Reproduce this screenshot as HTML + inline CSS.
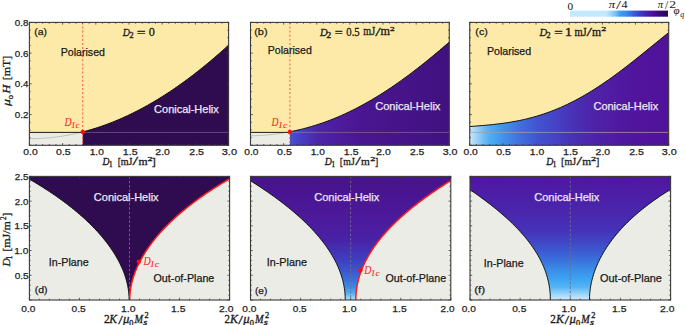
<!DOCTYPE html>
<html><head><meta charset="utf-8"><style>
html,body{margin:0;padding:0;background:#fff;}
body{width:685px;height:325px;overflow:hidden;}
svg{display:block;}
</style></head><body>
<svg xmlns="http://www.w3.org/2000/svg" width="685" height="325" viewBox="0 0 685 325">
<defs>
<clipPath id="ct0"><rect x="29.4" y="22.4" width="199.2" height="122.9"/></clipPath>
<clipPath id="cb0"><rect x="29.4" y="176.4" width="200.2" height="123.6"/></clipPath>
<clipPath id="ct1"><rect x="250.5" y="22.4" width="198.8" height="122.9"/></clipPath>
<clipPath id="cb1"><rect x="250.5" y="176.4" width="200.3" height="123.6"/></clipPath>
<clipPath id="ct2"><rect x="469.7" y="22.4" width="199" height="122.9"/></clipPath>
<clipPath id="cb2"><rect x="470.0" y="176.4" width="200.6" height="123.6"/></clipPath>
<linearGradient id="gb" gradientUnits="userSpaceOnUse" x1="290" y1="0" x2="449.6" y2="0"><stop offset="0.0063" stop-color="#4450d0"/><stop offset="0.0627" stop-color="#4640c4"/><stop offset="0.1253" stop-color="#4a30b4"/><stop offset="0.1880" stop-color="#4c24a8"/><stop offset="0.2820" stop-color="#4e1ca0"/><stop offset="0.3759" stop-color="#4c1898"/><stop offset="0.4261" stop-color="#4a1694"/><stop offset="0.6892" stop-color="#461488"/><stop offset="1.0000" stop-color="#401080"/></linearGradient>
<linearGradient id="gc" gradientUnits="userSpaceOnUse" x1="469.7" y1="0" x2="668.8" y2="0"><stop offset="0.0015" stop-color="#c8e8fc"/><stop offset="0.0266" stop-color="#a8d8f8"/><stop offset="0.0517" stop-color="#88c8f6"/><stop offset="0.0768" stop-color="#68b8f4"/><stop offset="0.1020" stop-color="#50acf2"/><stop offset="0.1271" stop-color="#48a4f0"/><stop offset="0.1522" stop-color="#4498ec"/><stop offset="0.2024" stop-color="#4284e4"/><stop offset="0.2526" stop-color="#4070dc"/><stop offset="0.3029" stop-color="#4060d6"/><stop offset="0.3430" stop-color="#4252d0"/><stop offset="0.4033" stop-color="#4448c8"/><stop offset="0.4787" stop-color="#4838bc"/><stop offset="0.5540" stop-color="#4a2cb0"/><stop offset="0.6293" stop-color="#4e22a8"/><stop offset="0.6796" stop-color="#501ea4"/><stop offset="0.7549" stop-color="#5018a0"/><stop offset="0.8553" stop-color="#52149c"/><stop offset="1.0000" stop-color="#50129a"/></linearGradient>
<linearGradient id="ge" gradientUnits="userSpaceOnUse" x1="0" y1="176.4" x2="0" y2="300"><stop offset="0.0000" stop-color="#46148a"/><stop offset="0.1909" stop-color="#4a1694"/><stop offset="0.3528" stop-color="#4c1a9c"/><stop offset="0.5146" stop-color="#4822a6"/><stop offset="0.5955" stop-color="#4430b4"/><stop offset="0.6764" stop-color="#3e40c0"/><stop offset="0.7573" stop-color="#3c54cc"/><stop offset="0.8382" stop-color="#3a70da"/><stop offset="0.9029" stop-color="#3c90e6"/><stop offset="0.9515" stop-color="#5cb4f2"/><stop offset="0.9838" stop-color="#98d4f8"/><stop offset="1.0000" stop-color="#b0e0fa"/></linearGradient>
<linearGradient id="gf" gradientUnits="userSpaceOnUse" x1="0" y1="176.4" x2="0" y2="300"><stop offset="0.0000" stop-color="#5016a0"/><stop offset="0.1505" stop-color="#4c1ea6"/><stop offset="0.3123" stop-color="#4828ae"/><stop offset="0.4337" stop-color="#4432b8"/><stop offset="0.5146" stop-color="#4242c2"/><stop offset="0.5955" stop-color="#3c58d0"/><stop offset="0.6764" stop-color="#3a70dc"/><stop offset="0.7573" stop-color="#3a8ee8"/><stop offset="0.8382" stop-color="#3ea6f2"/><stop offset="0.8948" stop-color="#56b4f4"/><stop offset="0.9434" stop-color="#90d0f8"/><stop offset="0.9838" stop-color="#c0e4fb"/><stop offset="1.0000" stop-color="#cceafc"/></linearGradient>
<linearGradient id="gcb" gradientUnits="userSpaceOnUse" x1="570" y1="0" x2="668" y2="0"><stop offset="0.0000" stop-color="#c4e8fc"/><stop offset="0.3673" stop-color="#c4e8fc"/><stop offset="0.4082" stop-color="#a8dafa"/><stop offset="0.4592" stop-color="#7cc4f6"/><stop offset="0.5102" stop-color="#3fa0f0"/><stop offset="0.5714" stop-color="#3a8ce8"/><stop offset="0.6224" stop-color="#3a6ee0"/><stop offset="0.6531" stop-color="#3a5ad8"/><stop offset="0.7143" stop-color="#3c3cc8"/><stop offset="0.7653" stop-color="#4428b0"/><stop offset="0.8163" stop-color="#4a18a0"/><stop offset="0.8673" stop-color="#4a0a90"/><stop offset="0.9184" stop-color="#3c0878"/><stop offset="0.9694" stop-color="#2e0860"/><stop offset="1.0000" stop-color="#28064f"/></linearGradient>
</defs>
<rect width="685" height="325" fill="#fff"/>
<g clip-path="url(#ct0)">
<rect x="29.4" y="22.4" width="199.2" height="122.9" fill="#FDEAA8"/>
<rect x="29.4" y="132.4" width="53.3" height="12.9" fill="#ECECE7"/>
<path d="M82.7,131.9 L85.19,131.25 L87.68,130.57 L90.17,129.86 L92.66,129.12 L95.15,128.35 L97.64,127.55 L100.13,126.72 L102.62,125.86 L105.11,124.98 L107.6,124.06 L110.09,123.11 L112.58,122.14 L115.07,121.13 L117.56,120.1 L120.05,119.03 L122.54,117.94 L125.03,116.81 L127.52,115.66 L130.01,114.48 L132.5,113.27 L134.99,112.03 L137.48,110.76 L139.97,109.46 L142.46,108.14 L144.95,106.78 L147.44,105.4 L149.93,103.99 L152.42,102.54 L154.91,101.07 L157.39,99.58 L159.88,98.05 L162.37,96.5 L164.86,94.91 L167.35,93.3 L169.84,91.66 L172.33,89.99 L174.82,88.3 L177.31,86.58 L179.8,84.83 L182.29,83.05 L184.78,81.24 L187.27,79.41 L189.76,77.55 L192.25,75.66 L194.74,73.75 L197.23,71.81 L199.72,69.84 L202.21,67.85 L204.7,65.83 L207.19,63.78 L209.68,61.71 L212.17,59.61 L214.66,57.48 L217.15,55.33 L219.64,53.16 L222.13,50.95 L224.62,48.73 L227.11,46.47 L229.6,44.2 L229.6,146.3 L82.7,146.3 L82.7,132.4 Z" fill="#2F0B50"/>
<path d="M29.4,138.7 L31.24,138.69 L33.08,138.67 L34.91,138.63 L36.75,138.57 L38.59,138.49 L40.43,138.41 L42.27,138.3 L44.1,138.18 L45.94,138.04 L47.78,137.89 L49.62,137.72 L51.46,137.53 L53.29,137.33 L55.13,137.11 L56.97,136.88 L58.81,136.63 L60.64,136.36 L62.48,136.08 L64.32,135.78 L66.16,135.46 L68,135.13 L69.83,134.79 L71.67,134.42 L73.51,134.04 L75.35,133.65 L77.19,133.23 L79.02,132.8 L80.86,132.36 L82.7,131.9" fill="none" stroke="#b4b4ae" stroke-width="0.8"/>
<line x1="29.4" y1="132.4" x2="82.7" y2="132.4" stroke="#1a1a1a" stroke-width="1"/>
<line x1="82.7" y1="132.4" x2="228.6" y2="132.4" stroke="#a0a0a0" stroke-opacity="0.45" stroke-width="1"/>
<path d="M82.7,131.9 L85.19,131.25 L87.68,130.57 L90.17,129.86 L92.66,129.12 L95.15,128.35 L97.64,127.55 L100.13,126.72 L102.62,125.86 L105.11,124.98 L107.6,124.06 L110.09,123.11 L112.58,122.14 L115.07,121.13 L117.56,120.1 L120.05,119.03 L122.54,117.94 L125.03,116.81 L127.52,115.66 L130.01,114.48 L132.5,113.27 L134.99,112.03 L137.48,110.76 L139.97,109.46 L142.46,108.14 L144.95,106.78 L147.44,105.4 L149.93,103.99 L152.42,102.54 L154.91,101.07 L157.39,99.58 L159.88,98.05 L162.37,96.5 L164.86,94.91 L167.35,93.3 L169.84,91.66 L172.33,89.99 L174.82,88.3 L177.31,86.58 L179.8,84.83 L182.29,83.05 L184.78,81.24 L187.27,79.41 L189.76,77.55 L192.25,75.66 L194.74,73.75 L197.23,71.81 L199.72,69.84 L202.21,67.85 L204.7,65.83 L207.19,63.78 L209.68,61.71 L212.17,59.61 L214.66,57.48 L217.15,55.33 L219.64,53.16 L222.13,50.95 L224.62,48.73 L227.11,46.47 L229.6,44.2" fill="none" stroke="#111" stroke-width="1"/>
</g>
<g clip-path="url(#ct1)">
<rect x="250.5" y="22.4" width="198.8" height="122.9" fill="#FDEAA8"/>
<rect x="250.5" y="132.4" width="39.4" height="12.9" fill="#ECECE7"/>
<path d="M289.9,131.9 L292.62,131.21 L295.34,130.63 L298.06,130.02 L300.77,129.38 L303.49,128.7 L306.21,127.98 L308.93,127.23 L311.65,126.44 L314.37,125.62 L317.09,124.76 L319.81,123.86 L322.52,122.93 L325.24,121.96 L327.96,120.96 L330.68,119.91 L333.4,118.84 L336.12,117.72 L338.84,116.57 L341.55,115.38 L344.27,114.16 L346.99,112.9 L349.71,111.6 L352.43,110.27 L355.15,108.9 L357.87,107.49 L360.58,106.06 L363.3,104.58 L366.02,103.07 L368.74,101.53 L371.46,99.95 L374.18,98.34 L376.9,96.69 L379.62,95.01 L382.33,93.3 L385.05,91.55 L387.77,89.77 L390.49,87.96 L393.21,86.12 L395.93,84.25 L398.65,82.35 L401.36,80.41 L404.08,78.45 L406.8,76.46 L409.52,74.44 L412.24,72.39 L414.96,70.31 L417.68,68.21 L420.39,66.08 L423.11,63.93 L425.83,61.75 L428.55,59.55 L431.27,57.32 L433.99,55.07 L436.71,52.8 L439.43,50.51 L442.14,48.2 L444.86,45.87 L447.58,43.52 L450.3,41.15 L450.3,146.3 L289.9,146.3 L289.9,132.4 Z" fill="url(#gb)"/>
<path d="M250.5,135.86 L251.86,135.83 L253.22,135.79 L254.58,135.74 L255.93,135.68 L257.29,135.62 L258.65,135.55 L260.01,135.47 L261.37,135.39 L262.73,135.29 L264.09,135.19 L265.44,135.08 L266.8,134.97 L268.16,134.84 L269.52,134.71 L270.88,134.57 L272.24,134.42 L273.6,134.27 L274.96,134.1 L276.31,133.93 L277.67,133.75 L279.03,133.56 L280.39,133.36 L281.75,133.16 L283.11,132.94 L284.47,132.72 L285.82,132.49 L287.18,132.25 L288.54,132 L289.9,131.75" fill="none" stroke="#b4b4ae" stroke-width="0.8"/>
<line x1="250.5" y1="132.4" x2="289.9" y2="132.4" stroke="#1a1a1a" stroke-width="1"/>
<line x1="289.9" y1="132.4" x2="449.3" y2="132.4" stroke="#a0a0a0" stroke-opacity="0.45" stroke-width="1"/>
<path d="M289.9,131.9 L292.62,131.21 L295.34,130.63 L298.06,130.02 L300.77,129.38 L303.49,128.7 L306.21,127.98 L308.93,127.23 L311.65,126.44 L314.37,125.62 L317.09,124.76 L319.81,123.86 L322.52,122.93 L325.24,121.96 L327.96,120.96 L330.68,119.91 L333.4,118.84 L336.12,117.72 L338.84,116.57 L341.55,115.38 L344.27,114.16 L346.99,112.9 L349.71,111.6 L352.43,110.27 L355.15,108.9 L357.87,107.49 L360.58,106.06 L363.3,104.58 L366.02,103.07 L368.74,101.53 L371.46,99.95 L374.18,98.34 L376.9,96.69 L379.62,95.01 L382.33,93.3 L385.05,91.55 L387.77,89.77 L390.49,87.96 L393.21,86.12 L395.93,84.25 L398.65,82.35 L401.36,80.41 L404.08,78.45 L406.8,76.46 L409.52,74.44 L412.24,72.39 L414.96,70.31 L417.68,68.21 L420.39,66.08 L423.11,63.93 L425.83,61.75 L428.55,59.55 L431.27,57.32 L433.99,55.07 L436.71,52.8 L439.43,50.51 L442.14,48.2 L444.86,45.87 L447.58,43.52 L450.3,41.15" fill="none" stroke="#111" stroke-width="1"/>
</g>
<g clip-path="url(#ct2)">
<rect x="469.7" y="22.4" width="199" height="122.9" fill="#FDEAA8"/>
<path d="M468.7,126.66 L472.11,126.39 L475.51,126.12 L478.92,125.84 L482.33,125.56 L485.73,125.25 L489.14,124.93 L492.55,124.58 L495.95,124.2 L499.36,123.79 L502.77,123.34 L506.17,122.85 L509.58,122.32 L512.99,121.74 L516.39,121.11 L519.8,120.43 L523.21,119.7 L526.62,118.9 L530.02,118.05 L533.43,117.13 L536.84,116.15 L540.24,115.11 L543.65,114 L547.06,112.82 L550.46,111.57 L553.87,110.26 L557.28,108.87 L560.68,107.41 L564.09,105.89 L567.5,104.29 L570.9,102.62 L574.31,100.88 L577.72,99.08 L581.12,97.2 L584.53,95.26 L587.94,93.25 L591.34,91.17 L594.75,89.03 L598.16,86.83 L601.56,84.58 L604.97,82.26 L608.38,79.89 L611.78,77.47 L615.19,74.99 L618.6,72.48 L622.01,69.91 L625.41,67.31 L628.82,64.67 L632.23,62 L635.63,59.3 L639.04,56.58 L642.45,53.84 L645.85,51.08 L649.26,48.31 L652.67,45.54 L656.07,42.77 L659.48,40 L662.89,37.24 L666.29,34.5 L669.7,31.78 L669.7,146.3 L468.7,146.3 Z" fill="url(#gc)"/>
<line x1="469.7" y1="132.4" x2="668.7" y2="132.4" stroke="#a0a0a0" stroke-opacity="0.75" stroke-width="1"/>
<path d="M468.7,126.66 L472.11,126.39 L475.51,126.12 L478.92,125.84 L482.33,125.56 L485.73,125.25 L489.14,124.93 L492.55,124.58 L495.95,124.2 L499.36,123.79 L502.77,123.34 L506.17,122.85 L509.58,122.32 L512.99,121.74 L516.39,121.11 L519.8,120.43 L523.21,119.7 L526.62,118.9 L530.02,118.05 L533.43,117.13 L536.84,116.15 L540.24,115.11 L543.65,114 L547.06,112.82 L550.46,111.57 L553.87,110.26 L557.28,108.87 L560.68,107.41 L564.09,105.89 L567.5,104.29 L570.9,102.62 L574.31,100.88 L577.72,99.08 L581.12,97.2 L584.53,95.26 L587.94,93.25 L591.34,91.17 L594.75,89.03 L598.16,86.83 L601.56,84.58 L604.97,82.26 L608.38,79.89 L611.78,77.47 L615.19,74.99 L618.6,72.48 L622.01,69.91 L625.41,67.31 L628.82,64.67 L632.23,62 L635.63,59.3 L639.04,56.58 L642.45,53.84 L645.85,51.08 L649.26,48.31 L652.67,45.54 L656.07,42.77 L659.48,40 L662.89,37.24 L666.29,34.5 L669.7,31.78" fill="none" stroke="#111" stroke-width="1"/>
</g>
<g clip-path="url(#cb0)">
<rect x="29.4" y="176.4" width="200.2" height="123.6" fill="#ECECE7"/>
<path d="M20.99,174.4 L23.84,175.99 L26.64,177.57 L29.4,179.16 L32.11,180.75 L34.78,182.34 L37.4,183.92 L39.98,185.51 L42.51,187.1 L45,188.69 L47.45,190.27 L49.85,191.86 L52.22,193.45 L54.54,195.04 L56.82,196.62 L59.06,198.21 L61.26,199.8 L63.42,201.38 L65.54,202.97 L67.63,204.56 L69.67,206.15 L71.68,207.73 L73.65,209.32 L75.58,210.91 L77.47,212.5 L79.33,214.08 L81.15,215.67 L82.93,217.26 L84.68,218.85 L86.39,220.43 L88.07,222.02 L89.71,223.61 L91.32,225.19 L92.89,226.78 L94.43,228.37 L95.93,229.96 L97.4,231.54 L98.83,233.13 L100.23,234.72 L101.6,236.31 L102.94,237.89 L104.24,239.48 L105.5,241.07 L106.74,242.66 L107.94,244.24 L109.11,245.83 L110.24,247.42 L111.35,249.01 L112.42,250.59 L113.45,252.18 L114.46,253.77 L115.43,255.35 L116.37,256.94 L117.28,258.53 L118.15,260.12 L118.99,261.7 L119.8,263.29 L120.58,264.88 L121.32,266.47 L122.03,268.05 L122.71,269.64 L123.35,271.23 L123.96,272.82 L124.54,274.4 L125.08,275.99 L125.59,277.58 L126.07,279.16 L126.51,280.75 L126.92,282.34 L127.29,283.93 L127.63,285.51 L127.94,287.1 L128.21,288.69 L128.44,290.28 L128.64,291.86 L128.81,293.45 L128.93,295.04 L129.03,296.63 L129.08,298.21 L129.1,299.8 L129.1,301 L129.7,301 L129.7,299.8 L129.72,298.21 L129.78,296.63 L129.87,295.04 L130,293.45 L130.16,291.86 L130.36,290.28 L130.6,288.69 L130.87,287.1 L131.17,285.51 L131.51,283.93 L131.89,282.34 L132.3,280.75 L132.74,279.16 L133.22,277.58 L133.73,275.99 L134.27,274.4 L134.85,272.82 L135.45,271.23 L136.1,269.64 L136.77,268.05 L137.48,266.47 L138.22,264.88 L138.99,263.29 L139.8,261.7 L140.64,260.12 L141.51,258.53 L142.41,256.94 L143.34,255.35 L144.31,253.77 L145.31,252.18 L146.34,250.59 L147.4,249.01 L148.5,247.42 L149.63,245.83 L150.79,244.24 L151.98,242.66 L153.21,241.07 L154.47,239.48 L155.76,237.89 L157.08,236.31 L158.44,234.72 L159.83,233.13 L161.26,231.54 L162.72,229.96 L164.21,228.37 L165.74,226.78 L167.3,225.19 L168.89,223.61 L170.52,222.02 L172.19,220.43 L173.89,218.85 L175.63,217.26 L177.4,215.67 L179.21,214.08 L181.05,212.5 L182.93,210.91 L184.85,209.32 L186.81,207.73 L188.81,206.15 L190.84,204.56 L192.91,202.97 L195.02,201.38 L197.18,199.8 L199.37,198.21 L201.6,196.62 L203.87,195.04 L206.19,193.45 L208.55,191.86 L210.95,190.27 L213.39,188.69 L215.88,187.1 L218.41,185.51 L220.98,183.92 L223.6,182.34 L226.27,180.75 L228.98,179.16 L231.74,177.57 L234.55,175.99 L237.41,174.4 L231.6,174.4 L27.4,174.4 Z" fill="#2F0B50"/>
<line x1="129.5" y1="176.4" x2="129.5" y2="300.0" stroke="#707084" stroke-width="0.9" stroke-dasharray="2.4,2"/>
<path d="M129.1,301 L129.1,299.8 L129.08,298.21 L129.03,296.63 L128.93,295.04 L128.81,293.45 L128.64,291.86 L128.44,290.28 L128.21,288.69 L127.94,287.1 L127.63,285.51 L127.29,283.93 L126.92,282.34 L126.51,280.75 L126.07,279.16 L125.59,277.58 L125.08,275.99 L124.54,274.4 L123.96,272.82 L123.35,271.23 L122.71,269.64 L122.03,268.05 L121.32,266.47 L120.58,264.88 L119.8,263.29 L118.99,261.7 L118.15,260.12 L117.28,258.53 L116.37,256.94 L115.43,255.35 L114.46,253.77 L113.45,252.18 L112.42,250.59 L111.35,249.01 L110.24,247.42 L109.11,245.83 L107.94,244.24 L106.74,242.66 L105.5,241.07 L104.24,239.48 L102.94,237.89 L101.6,236.31 L100.23,234.72 L98.83,233.13 L97.4,231.54 L95.93,229.96 L94.43,228.37 L92.89,226.78 L91.32,225.19 L89.71,223.61 L88.07,222.02 L86.39,220.43 L84.68,218.85 L82.93,217.26 L81.15,215.67 L79.33,214.08 L77.47,212.5 L75.58,210.91 L73.65,209.32 L71.68,207.73 L69.67,206.15 L67.63,204.56 L65.54,202.97 L63.42,201.38 L61.26,199.8 L59.06,198.21 L56.82,196.62 L54.54,195.04 L52.22,193.45 L49.85,191.86 L47.45,190.27 L45,188.69 L42.51,187.1 L39.98,185.51 L37.4,183.92 L34.78,182.34 L32.11,180.75 L29.4,179.16 L26.64,177.57 L23.84,175.99 L20.99,174.4" fill="none" stroke="#111" stroke-width="1"/>
<path d="M129.7,301 L129.7,299.8 L129.72,298.21 L129.78,296.63 L129.87,295.04 L130,293.45 L130.16,291.86 L130.36,290.28 L130.6,288.69 L130.87,287.1 L131.17,285.51 L131.51,283.93 L131.89,282.34 L132.3,280.75 L132.74,279.16 L133.22,277.58 L133.73,275.99 L134.27,274.4 L134.85,272.82 L135.45,271.23 L136.1,269.64 L136.77,268.05 L137.48,266.47 L138.22,264.88 L138.99,263.29 L139.8,261.7 L140.64,260.12 L141.51,258.53 L142.41,256.94 L143.34,255.35 L144.31,253.77 L145.31,252.18 L146.34,250.59 L147.4,249.01 L148.5,247.42 L149.63,245.83 L150.79,244.24 L151.98,242.66 L153.21,241.07 L154.47,239.48 L155.76,237.89 L157.08,236.31 L158.44,234.72 L159.83,233.13 L161.26,231.54 L162.72,229.96 L164.21,228.37 L165.74,226.78 L167.3,225.19 L168.89,223.61 L170.52,222.02 L172.19,220.43 L173.89,218.85 L175.63,217.26 L177.4,215.67 L179.21,214.08 L181.05,212.5 L182.93,210.91 L184.85,209.32 L186.81,207.73 L188.81,206.15 L190.84,204.56 L192.91,202.97 L195.02,201.38 L197.18,199.8 L199.37,198.21 L201.6,196.62 L203.87,195.04 L206.19,193.45 L208.55,191.86 L210.95,190.27 L213.39,188.69 L215.88,187.1 L218.41,185.51 L220.98,183.92 L223.6,182.34 L226.27,180.75 L228.98,179.16 L231.74,177.57 L234.55,175.99 L237.41,174.4" fill="none" stroke="#ff1a1a" stroke-width="1.5"/>
</g>
<g clip-path="url(#cb1)">
<rect x="250.5" y="176.4" width="200.3" height="123.6" fill="#ECECE7"/>
<path d="M240.01,174.4 L242.67,175.99 L245.29,177.57 L247.88,179.16 L250.44,180.75 L252.96,182.34 L255.45,183.92 L257.9,185.51 L260.32,187.1 L262.7,188.69 L265.05,190.27 L267.37,191.86 L269.65,193.45 L271.9,195.04 L274.11,196.62 L276.29,198.21 L278.44,199.8 L280.55,201.38 L282.63,202.97 L284.67,204.56 L286.68,206.15 L288.65,207.73 L290.6,209.32 L292.5,210.91 L294.38,212.5 L296.21,214.08 L298.02,215.67 L299.79,217.26 L301.53,218.85 L303.23,220.43 L304.9,222.02 L306.53,223.61 L308.13,225.19 L309.7,226.78 L311.23,228.37 L312.73,229.96 L314.2,231.54 L315.63,233.13 L317.03,234.72 L318.39,236.31 L319.72,237.89 L321.01,239.48 L322.27,241.07 L323.5,242.66 L324.7,244.24 L325.86,245.83 L326.98,247.42 L328.07,249.01 L329.13,250.59 L330.16,252.18 L331.15,253.77 L332.11,255.35 L333.03,256.94 L333.92,258.53 L334.77,260.12 L335.6,261.7 L336.38,263.29 L337.14,264.88 L337.86,266.47 L338.55,268.05 L339.2,269.64 L339.82,271.23 L340.41,272.82 L340.96,274.4 L341.48,275.99 L341.96,277.58 L342.42,279.16 L342.83,280.75 L343.22,282.34 L343.57,283.93 L343.89,285.51 L344.17,287.1 L344.42,288.69 L344.64,290.28 L344.82,291.86 L344.97,293.45 L345.09,295.04 L345.17,296.63 L345.22,298.21 L345.24,299.8 L345.24,301 L355.81,301 L355.81,299.8 L355.83,298.21 L355.88,296.63 L355.96,295.04 L356.07,293.45 L356.22,291.86 L356.4,290.28 L356.61,288.69 L356.85,287.1 L357.13,285.51 L357.44,283.93 L357.78,282.34 L358.16,280.75 L358.56,279.16 L359.01,277.58 L359.48,275.99 L359.99,274.4 L360.53,272.82 L361.11,271.23 L361.71,269.64 L362.36,268.05 L363.03,266.47 L363.74,264.88 L364.48,263.29 L365.26,261.7 L366.07,260.12 L366.91,258.53 L367.79,256.94 L368.7,255.35 L369.65,253.77 L370.63,252.18 L371.64,250.59 L372.69,249.01 L373.77,247.42 L374.89,245.83 L376.04,244.24 L377.22,242.66 L378.44,241.07 L379.69,239.48 L380.98,237.89 L382.3,236.31 L383.65,234.72 L385.05,233.13 L386.47,231.54 L387.93,229.96 L389.42,228.37 L390.95,226.78 L392.51,225.19 L394.11,223.61 L395.74,222.02 L397.41,220.43 L399.11,218.85 L400.85,217.26 L402.62,215.67 L404.42,214.08 L406.26,212.5 L408.14,210.91 L410.05,209.32 L412,207.73 L413.98,206.15 L415.99,204.56 L418.04,202.97 L420.12,201.38 L422.24,199.8 L424.4,198.21 L426.59,196.62 L428.81,195.04 L431.07,193.45 L433.37,191.86 L435.7,190.27 L438.06,188.69 L440.46,187.1 L442.89,185.51 L445.36,183.92 L447.87,182.34 L450.41,180.75 L452.98,179.16 L455.59,177.57 L458.24,175.99 L460.92,174.4 L452.8,174.4 L248.5,174.4 Z" fill="url(#ge)"/>
<line x1="350.65" y1="176.4" x2="350.65" y2="300.0" stroke="#707084" stroke-width="0.9" stroke-dasharray="2.4,2"/>
<path d="M345.24,301 L345.24,299.8 L345.22,298.21 L345.17,296.63 L345.09,295.04 L344.97,293.45 L344.82,291.86 L344.64,290.28 L344.42,288.69 L344.17,287.1 L343.89,285.51 L343.57,283.93 L343.22,282.34 L342.83,280.75 L342.42,279.16 L341.96,277.58 L341.48,275.99 L340.96,274.4 L340.41,272.82 L339.82,271.23 L339.2,269.64 L338.55,268.05 L337.86,266.47 L337.14,264.88 L336.38,263.29 L335.6,261.7 L334.77,260.12 L333.92,258.53 L333.03,256.94 L332.11,255.35 L331.15,253.77 L330.16,252.18 L329.13,250.59 L328.07,249.01 L326.98,247.42 L325.86,245.83 L324.7,244.24 L323.5,242.66 L322.27,241.07 L321.01,239.48 L319.72,237.89 L318.39,236.31 L317.03,234.72 L315.63,233.13 L314.2,231.54 L312.73,229.96 L311.23,228.37 L309.7,226.78 L308.13,225.19 L306.53,223.61 L304.9,222.02 L303.23,220.43 L301.53,218.85 L299.79,217.26 L298.02,215.67 L296.21,214.08 L294.38,212.5 L292.5,210.91 L290.6,209.32 L288.65,207.73 L286.68,206.15 L284.67,204.56 L282.63,202.97 L280.55,201.38 L278.44,199.8 L276.29,198.21 L274.11,196.62 L271.9,195.04 L269.65,193.45 L267.37,191.86 L265.05,190.27 L262.7,188.69 L260.32,187.1 L257.9,185.51 L255.45,183.92 L252.96,182.34 L250.44,180.75 L247.88,179.16 L245.29,177.57 L242.67,175.99 L240.01,174.4" fill="none" stroke="#111" stroke-width="1"/>
<path d="M355.81,301 L355.81,299.8 L355.83,298.21 L355.88,296.63 L355.96,295.04 L356.07,293.45 L356.22,291.86 L356.4,290.28 L356.61,288.69 L356.85,287.1 L357.13,285.51 L357.44,283.93 L357.78,282.34 L358.16,280.75 L358.56,279.16 L359.01,277.58 L359.48,275.99 L359.99,274.4 L360.53,272.82 L361.11,271.23 L361.71,269.64 L362.36,268.05 L363.03,266.47 L363.74,264.88 L364.48,263.29 L365.26,261.7 L366.07,260.12 L366.91,258.53 L367.79,256.94 L368.7,255.35 L369.65,253.77 L370.63,252.18 L371.64,250.59 L372.69,249.01 L373.77,247.42 L374.89,245.83 L376.04,244.24 L377.22,242.66 L378.44,241.07 L379.69,239.48 L380.98,237.89 L382.3,236.31 L383.65,234.72 L385.05,233.13 L386.47,231.54 L387.93,229.96 L389.42,228.37 L390.95,226.78 L392.51,225.19 L394.11,223.61 L395.74,222.02 L397.41,220.43 L399.11,218.85 L400.85,217.26 L402.62,215.67 L404.42,214.08 L406.26,212.5 L408.14,210.91 L410.05,209.32 L412,207.73 L413.98,206.15 L415.99,204.56 L418.04,202.97 L420.12,201.38 L422.24,199.8 L424.4,198.21 L426.59,196.62 L428.81,195.04 L431.07,193.45 L433.37,191.86 L435.7,190.27 L438.06,188.69 L440.46,187.1 L442.89,185.51 L445.36,183.92 L447.87,182.34 L450.41,180.75 L452.98,179.16 L455.59,177.57 L458.24,175.99 L460.92,174.4" fill="none" stroke="#ff1a1a" stroke-width="1.5"/>
</g>
<g clip-path="url(#cb2)">
<rect x="470.0" y="176.4" width="200.6" height="123.6" fill="#ECECE7"/>
<path d="M446.02,174.4 L448.62,175.99 L451.2,177.57 L453.75,179.16 L456.27,180.75 L458.76,182.34 L461.23,183.92 L463.66,185.51 L466.07,187.1 L468.44,188.69 L470.79,190.27 L473.1,191.86 L475.38,193.45 L477.63,195.04 L479.85,196.62 L482.04,198.21 L484.19,199.8 L486.31,201.38 L488.4,202.97 L490.46,204.56 L492.48,206.15 L494.47,207.73 L496.43,209.32 L498.35,210.91 L500.24,212.5 L502.09,214.08 L503.91,215.67 L505.7,217.26 L507.45,218.85 L509.17,220.43 L510.85,222.02 L512.49,223.61 L514.1,225.19 L515.68,226.78 L517.22,228.37 L518.72,229.96 L520.19,231.54 L521.63,233.13 L523.02,234.72 L524.39,236.31 L525.71,237.89 L527,239.48 L528.26,241.07 L529.48,242.66 L530.66,244.24 L531.81,245.83 L532.92,247.42 L534,249.01 L535.04,250.59 L536.04,252.18 L537.01,253.77 L537.95,255.35 L538.85,256.94 L539.71,258.53 L540.54,260.12 L541.34,261.7 L542.09,263.29 L542.82,264.88 L543.51,266.47 L544.16,268.05 L544.79,269.64 L545.37,271.23 L545.93,272.82 L546.45,274.4 L546.93,275.99 L547.38,277.58 L547.8,279.16 L548.19,280.75 L548.55,282.34 L548.87,283.93 L549.16,285.51 L549.42,287.1 L549.64,288.69 L549.84,290.28 L550,291.86 L550.14,293.45 L550.24,295.04 L550.31,296.63 L550.36,298.21 L550.37,299.8 L550.37,301 L589.5,301 L589.5,299.8 L589.51,298.21 L589.56,296.63 L589.64,295.04 L589.76,293.45 L589.9,291.86 L590.08,290.28 L590.29,288.69 L590.53,287.1 L590.8,285.51 L591.1,283.93 L591.43,282.34 L591.8,280.75 L592.19,279.16 L592.62,277.58 L593.08,275.99 L593.57,274.4 L594.09,272.82 L594.64,271.23 L595.22,269.64 L595.83,268.05 L596.47,266.47 L597.15,264.88 L597.85,263.29 L598.59,261.7 L599.35,260.12 L600.15,258.53 L600.99,256.94 L601.85,255.35 L602.74,253.77 L603.67,252.18 L604.63,250.59 L605.63,249.01 L606.65,247.42 L607.71,245.83 L608.8,244.24 L609.93,242.66 L611.09,241.07 L612.29,239.48 L613.52,237.89 L614.79,236.31 L616.09,234.72 L617.43,233.13 L618.8,231.54 L620.22,229.96 L621.67,228.37 L623.15,226.78 L624.68,225.19 L626.25,223.61 L627.85,222.02 L629.5,220.43 L631.18,218.85 L632.91,217.26 L634.68,215.67 L636.49,214.08 L638.34,212.5 L640.24,210.91 L642.18,209.32 L644.17,207.73 L646.2,206.15 L648.28,204.56 L650.41,202.97 L652.58,201.38 L654.8,199.8 L657.08,198.21 L659.4,196.62 L661.77,195.04 L664.2,193.45 L666.67,191.86 L669.21,190.27 L671.79,188.69 L674.43,187.1 L677.13,185.51 L679.88,183.92 L682.7,182.34 L685.57,180.75 L688.5,179.16 L691.49,177.57 L694.54,175.99 L697.66,174.4 L672.6,174.4 L468,174.4 Z" fill="url(#gf)"/>
<line x1="570.3" y1="176.4" x2="570.3" y2="300.0" stroke="#707084" stroke-width="0.9" stroke-dasharray="2.4,2"/>
<path d="M550.37,301 L550.37,299.8 L550.36,298.21 L550.31,296.63 L550.24,295.04 L550.14,293.45 L550,291.86 L549.84,290.28 L549.64,288.69 L549.42,287.1 L549.16,285.51 L548.87,283.93 L548.55,282.34 L548.19,280.75 L547.8,279.16 L547.38,277.58 L546.93,275.99 L546.45,274.4 L545.93,272.82 L545.37,271.23 L544.79,269.64 L544.16,268.05 L543.51,266.47 L542.82,264.88 L542.09,263.29 L541.34,261.7 L540.54,260.12 L539.71,258.53 L538.85,256.94 L537.95,255.35 L537.01,253.77 L536.04,252.18 L535.04,250.59 L534,249.01 L532.92,247.42 L531.81,245.83 L530.66,244.24 L529.48,242.66 L528.26,241.07 L527,239.48 L525.71,237.89 L524.39,236.31 L523.02,234.72 L521.63,233.13 L520.19,231.54 L518.72,229.96 L517.22,228.37 L515.68,226.78 L514.1,225.19 L512.49,223.61 L510.85,222.02 L509.17,220.43 L507.45,218.85 L505.7,217.26 L503.91,215.67 L502.09,214.08 L500.24,212.5 L498.35,210.91 L496.43,209.32 L494.47,207.73 L492.48,206.15 L490.46,204.56 L488.4,202.97 L486.31,201.38 L484.19,199.8 L482.04,198.21 L479.85,196.62 L477.63,195.04 L475.38,193.45 L473.1,191.86 L470.79,190.27 L468.44,188.69 L466.07,187.1 L463.66,185.51 L461.23,183.92 L458.76,182.34 L456.27,180.75 L453.75,179.16 L451.2,177.57 L448.62,175.99 L446.02,174.4" fill="none" stroke="#111" stroke-width="1"/>
<path d="M589.5,301 L589.5,299.8 L589.51,298.21 L589.56,296.63 L589.64,295.04 L589.76,293.45 L589.9,291.86 L590.08,290.28 L590.29,288.69 L590.53,287.1 L590.8,285.51 L591.1,283.93 L591.43,282.34 L591.8,280.75 L592.19,279.16 L592.62,277.58 L593.08,275.99 L593.57,274.4 L594.09,272.82 L594.64,271.23 L595.22,269.64 L595.83,268.05 L596.47,266.47 L597.15,264.88 L597.85,263.29 L598.59,261.7 L599.35,260.12 L600.15,258.53 L600.99,256.94 L601.85,255.35 L602.74,253.77 L603.67,252.18 L604.63,250.59 L605.63,249.01 L606.65,247.42 L607.71,245.83 L608.8,244.24 L609.93,242.66 L611.09,241.07 L612.29,239.48 L613.52,237.89 L614.79,236.31 L616.09,234.72 L617.43,233.13 L618.8,231.54 L620.22,229.96 L621.67,228.37 L623.15,226.78 L624.68,225.19 L626.25,223.61 L627.85,222.02 L629.5,220.43 L631.18,218.85 L632.91,217.26 L634.68,215.67 L636.49,214.08 L638.34,212.5 L640.24,210.91 L642.18,209.32 L644.17,207.73 L646.2,206.15 L648.28,204.56 L650.41,202.97 L652.58,201.38 L654.8,199.8 L657.08,198.21 L659.4,196.62 L661.77,195.04 L664.2,193.45 L666.67,191.86 L669.21,190.27 L671.79,188.69 L674.43,187.1 L677.13,185.51 L679.88,183.92 L682.7,182.34 L685.57,180.75 L688.5,179.16 L691.49,177.57 L694.54,175.99 L697.66,174.4" fill="none" stroke="#111" stroke-width="1"/>
</g>
<line x1="82.7" y1="22.4" x2="82.7" y2="145.3" stroke="#f5503c" stroke-opacity="0.85" stroke-width="1.1" stroke-dasharray="2,2.1"/>
<line x1="289.9" y1="22.4" x2="289.9" y2="145.3" stroke="#f5503c" stroke-opacity="0.85" stroke-width="1.1" stroke-dasharray="2,2.1"/>
<rect x="29.4" y="22.4" width="199.2" height="122.9" fill="none" stroke="#3a3a3a" stroke-width="1.1"/>
<path d="M29.4,145.3v-2.2M29.4,22.4v2.2M62.6,145.3v-2.2M62.6,22.4v2.2M95.8,145.3v-2.2M95.8,22.4v2.2M129,145.3v-2.2M129,22.4v2.2M162.2,145.3v-2.2M162.2,22.4v2.2M195.4,145.3v-2.2M195.4,22.4v2.2M228.6,145.3v-2.2M228.6,22.4v2.2M36.04,145.3v-1.3M36.04,22.4v1.3M42.68,145.3v-1.3M42.68,22.4v1.3M49.32,145.3v-1.3M49.32,22.4v1.3M55.96,145.3v-1.3M55.96,22.4v1.3M69.24,145.3v-1.3M69.24,22.4v1.3M75.88,145.3v-1.3M75.88,22.4v1.3M82.52,145.3v-1.3M82.52,22.4v1.3M89.16,145.3v-1.3M89.16,22.4v1.3M102.44,145.3v-1.3M102.44,22.4v1.3M109.08,145.3v-1.3M109.08,22.4v1.3M115.72,145.3v-1.3M115.72,22.4v1.3M122.36,145.3v-1.3M122.36,22.4v1.3M135.64,145.3v-1.3M135.64,22.4v1.3M142.28,145.3v-1.3M142.28,22.4v1.3M148.92,145.3v-1.3M148.92,22.4v1.3M155.56,145.3v-1.3M155.56,22.4v1.3M168.84,145.3v-1.3M168.84,22.4v1.3M175.48,145.3v-1.3M175.48,22.4v1.3M182.12,145.3v-1.3M182.12,22.4v1.3M188.76,145.3v-1.3M188.76,22.4v1.3M202.04,145.3v-1.3M202.04,22.4v1.3M208.68,145.3v-1.3M208.68,22.4v1.3M215.32,145.3v-1.3M215.32,22.4v1.3M221.96,145.3v-1.3M221.96,22.4v1.3M29.4,145.3h2.2M228.6,145.3h-2.2M29.4,114.58h2.2M228.6,114.58h-2.2M29.4,83.85h2.2M228.6,83.85h-2.2M29.4,53.12h2.2M228.6,53.12h-2.2M29.4,22.4h2.2M228.6,22.4h-2.2M29.4,137.62h1.3M228.6,137.62h-1.3M29.4,129.94h1.3M228.6,129.94h-1.3M29.4,122.26h1.3M228.6,122.26h-1.3M29.4,106.89h1.3M228.6,106.89h-1.3M29.4,99.21h1.3M228.6,99.21h-1.3M29.4,91.53h1.3M228.6,91.53h-1.3M29.4,76.17h1.3M228.6,76.17h-1.3M29.4,68.49h1.3M228.6,68.49h-1.3M29.4,60.81h1.3M228.6,60.81h-1.3M29.4,45.44h1.3M228.6,45.44h-1.3M29.4,37.76h1.3M228.6,37.76h-1.3M29.4,30.08h1.3M228.6,30.08h-1.3" stroke="#3a3a3a" stroke-width="0.8" fill="none"/>
<rect x="250.5" y="22.4" width="198.8" height="122.9" fill="none" stroke="#3a3a3a" stroke-width="1.1"/>
<path d="M250.5,145.3v-2.2M250.5,22.4v2.2M283.63,145.3v-2.2M283.63,22.4v2.2M316.77,145.3v-2.2M316.77,22.4v2.2M349.9,145.3v-2.2M349.9,22.4v2.2M383.03,145.3v-2.2M383.03,22.4v2.2M416.17,145.3v-2.2M416.17,22.4v2.2M449.3,145.3v-2.2M449.3,22.4v2.2M257.13,145.3v-1.3M257.13,22.4v1.3M263.75,145.3v-1.3M263.75,22.4v1.3M270.38,145.3v-1.3M270.38,22.4v1.3M277.01,145.3v-1.3M277.01,22.4v1.3M290.26,145.3v-1.3M290.26,22.4v1.3M296.89,145.3v-1.3M296.89,22.4v1.3M303.51,145.3v-1.3M303.51,22.4v1.3M310.14,145.3v-1.3M310.14,22.4v1.3M323.39,145.3v-1.3M323.39,22.4v1.3M330.02,145.3v-1.3M330.02,22.4v1.3M336.65,145.3v-1.3M336.65,22.4v1.3M343.27,145.3v-1.3M343.27,22.4v1.3M356.53,145.3v-1.3M356.53,22.4v1.3M363.15,145.3v-1.3M363.15,22.4v1.3M369.78,145.3v-1.3M369.78,22.4v1.3M376.41,145.3v-1.3M376.41,22.4v1.3M389.66,145.3v-1.3M389.66,22.4v1.3M396.29,145.3v-1.3M396.29,22.4v1.3M402.91,145.3v-1.3M402.91,22.4v1.3M409.54,145.3v-1.3M409.54,22.4v1.3M422.79,145.3v-1.3M422.79,22.4v1.3M429.42,145.3v-1.3M429.42,22.4v1.3M436.05,145.3v-1.3M436.05,22.4v1.3M442.67,145.3v-1.3M442.67,22.4v1.3M250.5,145.3h2.2M449.3,145.3h-2.2M250.5,114.58h2.2M449.3,114.58h-2.2M250.5,83.85h2.2M449.3,83.85h-2.2M250.5,53.12h2.2M449.3,53.12h-2.2M250.5,22.4h2.2M449.3,22.4h-2.2M250.5,137.62h1.3M449.3,137.62h-1.3M250.5,129.94h1.3M449.3,129.94h-1.3M250.5,122.26h1.3M449.3,122.26h-1.3M250.5,106.89h1.3M449.3,106.89h-1.3M250.5,99.21h1.3M449.3,99.21h-1.3M250.5,91.53h1.3M449.3,91.53h-1.3M250.5,76.17h1.3M449.3,76.17h-1.3M250.5,68.49h1.3M449.3,68.49h-1.3M250.5,60.81h1.3M449.3,60.81h-1.3M250.5,45.44h1.3M449.3,45.44h-1.3M250.5,37.76h1.3M449.3,37.76h-1.3M250.5,30.08h1.3M449.3,30.08h-1.3" stroke="#3a3a3a" stroke-width="0.8" fill="none"/>
<rect x="469.7" y="22.4" width="199" height="122.9" fill="none" stroke="#3a3a3a" stroke-width="1.1"/>
<path d="M469.7,145.3v-2.2M469.7,22.4v2.2M502.87,145.3v-2.2M502.87,22.4v2.2M536.03,145.3v-2.2M536.03,22.4v2.2M569.2,145.3v-2.2M569.2,22.4v2.2M602.37,145.3v-2.2M602.37,22.4v2.2M635.53,145.3v-2.2M635.53,22.4v2.2M668.7,145.3v-2.2M668.7,22.4v2.2M476.33,145.3v-1.3M476.33,22.4v1.3M482.97,145.3v-1.3M482.97,22.4v1.3M489.6,145.3v-1.3M489.6,22.4v1.3M496.23,145.3v-1.3M496.23,22.4v1.3M509.5,145.3v-1.3M509.5,22.4v1.3M516.13,145.3v-1.3M516.13,22.4v1.3M522.77,145.3v-1.3M522.77,22.4v1.3M529.4,145.3v-1.3M529.4,22.4v1.3M542.67,145.3v-1.3M542.67,22.4v1.3M549.3,145.3v-1.3M549.3,22.4v1.3M555.93,145.3v-1.3M555.93,22.4v1.3M562.57,145.3v-1.3M562.57,22.4v1.3M575.83,145.3v-1.3M575.83,22.4v1.3M582.47,145.3v-1.3M582.47,22.4v1.3M589.1,145.3v-1.3M589.1,22.4v1.3M595.73,145.3v-1.3M595.73,22.4v1.3M609,145.3v-1.3M609,22.4v1.3M615.63,145.3v-1.3M615.63,22.4v1.3M622.27,145.3v-1.3M622.27,22.4v1.3M628.9,145.3v-1.3M628.9,22.4v1.3M642.17,145.3v-1.3M642.17,22.4v1.3M648.8,145.3v-1.3M648.8,22.4v1.3M655.43,145.3v-1.3M655.43,22.4v1.3M662.07,145.3v-1.3M662.07,22.4v1.3M469.7,145.3h2.2M668.7,145.3h-2.2M469.7,114.58h2.2M668.7,114.58h-2.2M469.7,83.85h2.2M668.7,83.85h-2.2M469.7,53.12h2.2M668.7,53.12h-2.2M469.7,22.4h2.2M668.7,22.4h-2.2M469.7,137.62h1.3M668.7,137.62h-1.3M469.7,129.94h1.3M668.7,129.94h-1.3M469.7,122.26h1.3M668.7,122.26h-1.3M469.7,106.89h1.3M668.7,106.89h-1.3M469.7,99.21h1.3M668.7,99.21h-1.3M469.7,91.53h1.3M668.7,91.53h-1.3M469.7,76.17h1.3M668.7,76.17h-1.3M469.7,68.49h1.3M668.7,68.49h-1.3M469.7,60.81h1.3M668.7,60.81h-1.3M469.7,45.44h1.3M668.7,45.44h-1.3M469.7,37.76h1.3M668.7,37.76h-1.3M469.7,30.08h1.3M668.7,30.08h-1.3" stroke="#3a3a3a" stroke-width="0.8" fill="none"/>
<rect x="29.4" y="176.4" width="200.2" height="123.6" fill="none" stroke="#3a3a3a" stroke-width="1.1"/>
<path d="M29.4,300v-2.2M29.4,176.4v2.2M79.45,300v-2.2M79.45,176.4v2.2M129.5,300v-2.2M129.5,176.4v2.2M179.55,300v-2.2M179.55,176.4v2.2M229.6,300v-2.2M229.6,176.4v2.2M39.41,300v-1.3M39.41,176.4v1.3M49.42,300v-1.3M49.42,176.4v1.3M59.43,300v-1.3M59.43,176.4v1.3M69.44,300v-1.3M69.44,176.4v1.3M89.46,300v-1.3M89.46,176.4v1.3M99.47,300v-1.3M99.47,176.4v1.3M109.48,300v-1.3M109.48,176.4v1.3M119.49,300v-1.3M119.49,176.4v1.3M139.51,300v-1.3M139.51,176.4v1.3M149.52,300v-1.3M149.52,176.4v1.3M159.53,300v-1.3M159.53,176.4v1.3M169.54,300v-1.3M169.54,176.4v1.3M189.56,300v-1.3M189.56,176.4v1.3M199.57,300v-1.3M199.57,176.4v1.3M209.58,300v-1.3M209.58,176.4v1.3M219.59,300v-1.3M219.59,176.4v1.3M29.4,300h2.2M229.6,300h-2.2M29.4,275.28h2.2M229.6,275.28h-2.2M29.4,250.56h2.2M229.6,250.56h-2.2M29.4,225.84h2.2M229.6,225.84h-2.2M29.4,201.12h2.2M229.6,201.12h-2.2M29.4,176.4h2.2M229.6,176.4h-2.2M29.4,295.06h1.3M229.6,295.06h-1.3M29.4,290.11h1.3M229.6,290.11h-1.3M29.4,285.17h1.3M229.6,285.17h-1.3M29.4,280.22h1.3M229.6,280.22h-1.3M29.4,270.34h1.3M229.6,270.34h-1.3M29.4,265.39h1.3M229.6,265.39h-1.3M29.4,260.45h1.3M229.6,260.45h-1.3M29.4,255.5h1.3M229.6,255.5h-1.3M29.4,245.62h1.3M229.6,245.62h-1.3M29.4,240.67h1.3M229.6,240.67h-1.3M29.4,235.73h1.3M229.6,235.73h-1.3M29.4,230.78h1.3M229.6,230.78h-1.3M29.4,220.9h1.3M229.6,220.9h-1.3M29.4,215.95h1.3M229.6,215.95h-1.3M29.4,211.01h1.3M229.6,211.01h-1.3M29.4,206.06h1.3M229.6,206.06h-1.3M29.4,196.18h1.3M229.6,196.18h-1.3M29.4,191.23h1.3M229.6,191.23h-1.3M29.4,186.29h1.3M229.6,186.29h-1.3M29.4,181.34h1.3M229.6,181.34h-1.3" stroke="#3a3a3a" stroke-width="0.8" fill="none"/>
<rect x="250.5" y="176.4" width="200.3" height="123.6" fill="none" stroke="#3a3a3a" stroke-width="1.1"/>
<path d="M250.5,300v-2.2M250.5,176.4v2.2M300.57,300v-2.2M300.57,176.4v2.2M350.65,300v-2.2M350.65,176.4v2.2M400.73,300v-2.2M400.73,176.4v2.2M450.8,300v-2.2M450.8,176.4v2.2M260.51,300v-1.3M260.51,176.4v1.3M270.53,300v-1.3M270.53,176.4v1.3M280.55,300v-1.3M280.55,176.4v1.3M290.56,300v-1.3M290.56,176.4v1.3M310.59,300v-1.3M310.59,176.4v1.3M320.61,300v-1.3M320.61,176.4v1.3M330.62,300v-1.3M330.62,176.4v1.3M340.63,300v-1.3M340.63,176.4v1.3M360.67,300v-1.3M360.67,176.4v1.3M370.68,300v-1.3M370.68,176.4v1.3M380.7,300v-1.3M380.7,176.4v1.3M390.71,300v-1.3M390.71,176.4v1.3M410.74,300v-1.3M410.74,176.4v1.3M420.75,300v-1.3M420.75,176.4v1.3M430.77,300v-1.3M430.77,176.4v1.3M440.79,300v-1.3M440.79,176.4v1.3M250.5,300h2.2M450.8,300h-2.2M250.5,275.28h2.2M450.8,275.28h-2.2M250.5,250.56h2.2M450.8,250.56h-2.2M250.5,225.84h2.2M450.8,225.84h-2.2M250.5,201.12h2.2M450.8,201.12h-2.2M250.5,176.4h2.2M450.8,176.4h-2.2M250.5,295.06h1.3M450.8,295.06h-1.3M250.5,290.11h1.3M450.8,290.11h-1.3M250.5,285.17h1.3M450.8,285.17h-1.3M250.5,280.22h1.3M450.8,280.22h-1.3M250.5,270.34h1.3M450.8,270.34h-1.3M250.5,265.39h1.3M450.8,265.39h-1.3M250.5,260.45h1.3M450.8,260.45h-1.3M250.5,255.5h1.3M450.8,255.5h-1.3M250.5,245.62h1.3M450.8,245.62h-1.3M250.5,240.67h1.3M450.8,240.67h-1.3M250.5,235.73h1.3M450.8,235.73h-1.3M250.5,230.78h1.3M450.8,230.78h-1.3M250.5,220.9h1.3M450.8,220.9h-1.3M250.5,215.95h1.3M450.8,215.95h-1.3M250.5,211.01h1.3M450.8,211.01h-1.3M250.5,206.06h1.3M450.8,206.06h-1.3M250.5,196.18h1.3M450.8,196.18h-1.3M250.5,191.23h1.3M450.8,191.23h-1.3M250.5,186.29h1.3M450.8,186.29h-1.3M250.5,181.34h1.3M450.8,181.34h-1.3" stroke="#3a3a3a" stroke-width="0.8" fill="none"/>
<rect x="470.0" y="176.4" width="200.6" height="123.6" fill="none" stroke="#3a3a3a" stroke-width="1.1"/>
<path d="M470,300v-2.2M470,176.4v2.2M520.15,300v-2.2M520.15,176.4v2.2M570.3,300v-2.2M570.3,176.4v2.2M620.45,300v-2.2M620.45,176.4v2.2M670.6,300v-2.2M670.6,176.4v2.2M480.03,300v-1.3M480.03,176.4v1.3M490.06,300v-1.3M490.06,176.4v1.3M500.09,300v-1.3M500.09,176.4v1.3M510.12,300v-1.3M510.12,176.4v1.3M530.18,300v-1.3M530.18,176.4v1.3M540.21,300v-1.3M540.21,176.4v1.3M550.24,300v-1.3M550.24,176.4v1.3M560.27,300v-1.3M560.27,176.4v1.3M580.33,300v-1.3M580.33,176.4v1.3M590.36,300v-1.3M590.36,176.4v1.3M600.39,300v-1.3M600.39,176.4v1.3M610.42,300v-1.3M610.42,176.4v1.3M630.48,300v-1.3M630.48,176.4v1.3M640.51,300v-1.3M640.51,176.4v1.3M650.54,300v-1.3M650.54,176.4v1.3M660.57,300v-1.3M660.57,176.4v1.3M470,300h2.2M670.6,300h-2.2M470,275.28h2.2M670.6,275.28h-2.2M470,250.56h2.2M670.6,250.56h-2.2M470,225.84h2.2M670.6,225.84h-2.2M470,201.12h2.2M670.6,201.12h-2.2M470,176.4h2.2M670.6,176.4h-2.2M470,295.06h1.3M670.6,295.06h-1.3M470,290.11h1.3M670.6,290.11h-1.3M470,285.17h1.3M670.6,285.17h-1.3M470,280.22h1.3M670.6,280.22h-1.3M470,270.34h1.3M670.6,270.34h-1.3M470,265.39h1.3M670.6,265.39h-1.3M470,260.45h1.3M670.6,260.45h-1.3M470,255.5h1.3M670.6,255.5h-1.3M470,245.62h1.3M670.6,245.62h-1.3M470,240.67h1.3M670.6,240.67h-1.3M470,235.73h1.3M670.6,235.73h-1.3M470,230.78h1.3M670.6,230.78h-1.3M470,220.9h1.3M670.6,220.9h-1.3M470,215.95h1.3M670.6,215.95h-1.3M470,211.01h1.3M670.6,211.01h-1.3M470,206.06h1.3M670.6,206.06h-1.3M470,196.18h1.3M670.6,196.18h-1.3M470,191.23h1.3M670.6,191.23h-1.3M470,186.29h1.3M670.6,186.29h-1.3M470,181.34h1.3M670.6,181.34h-1.3" stroke="#3a3a3a" stroke-width="0.8" fill="none"/>
<circle cx="82.7" cy="131.9" r="2.2" fill="#ff0d0d"/>
<circle cx="289.9" cy="131.9" r="2.2" fill="#ff0d0d"/>
<circle cx="138.8" cy="261.6" r="2.2" fill="#ff0d0d"/>
<circle cx="360.3" cy="270.2" r="2.2" fill="#ff0d0d"/>
<text x="23.28" y="154.90" font-family="Liberation Sans" font-size="9.6" fill="#222222" stroke="#222222" stroke-width="0.25" textLength="14.37" lengthAdjust="spacingAndGlyphs">0.0</text>
<text x="56.12" y="154.90" font-family="Liberation Sans" font-size="9.6" fill="#222222" stroke="#222222" stroke-width="0.25" textLength="14.61" lengthAdjust="spacingAndGlyphs">0.5</text>
<text x="89.68" y="154.90" font-family="Liberation Sans" font-size="9.6" fill="#222222" stroke="#222222" stroke-width="0.25" textLength="14.19" lengthAdjust="spacingAndGlyphs">1.0</text>
<text x="122.88" y="154.90" font-family="Liberation Sans" font-size="9.6" fill="#222222" stroke="#222222" stroke-width="0.25" textLength="14.85" lengthAdjust="spacingAndGlyphs">1.5</text>
<text x="155.37" y="154.90" font-family="Liberation Sans" font-size="9.6" fill="#222222" stroke="#222222" stroke-width="0.25" textLength="14.55" lengthAdjust="spacingAndGlyphs">2.0</text>
<text x="189.32" y="154.90" font-family="Liberation Sans" font-size="9.6" fill="#222222" stroke="#222222" stroke-width="0.25" textLength="14.60" lengthAdjust="spacingAndGlyphs">2.5</text>
<text x="221.72" y="154.90" font-family="Liberation Sans" font-size="9.6" fill="#222222" stroke="#222222" stroke-width="0.25" textLength="15.29" lengthAdjust="spacingAndGlyphs">3.0</text>
<text x="244.34" y="154.90" font-family="Liberation Sans" font-size="9.6" fill="#222222" stroke="#222222" stroke-width="0.25" textLength="14.16" lengthAdjust="spacingAndGlyphs">0.0</text>
<text x="277.13" y="154.90" font-family="Liberation Sans" font-size="9.6" fill="#222222" stroke="#222222" stroke-width="0.25" textLength="14.74" lengthAdjust="spacingAndGlyphs">0.5</text>
<text x="310.71" y="154.90" font-family="Liberation Sans" font-size="9.6" fill="#222222" stroke="#222222" stroke-width="0.25" textLength="14.08" lengthAdjust="spacingAndGlyphs">1.0</text>
<text x="343.89" y="154.90" font-family="Liberation Sans" font-size="9.6" fill="#222222" stroke="#222222" stroke-width="0.25" textLength="14.62" lengthAdjust="spacingAndGlyphs">1.5</text>
<text x="376.38" y="154.90" font-family="Liberation Sans" font-size="9.6" fill="#222222" stroke="#222222" stroke-width="0.25" textLength="14.38" lengthAdjust="spacingAndGlyphs">2.0</text>
<text x="410.04" y="154.90" font-family="Liberation Sans" font-size="9.6" fill="#222222" stroke="#222222" stroke-width="0.25" textLength="14.33" lengthAdjust="spacingAndGlyphs">2.5</text>
<text x="442.66" y="154.90" font-family="Liberation Sans" font-size="9.6" fill="#222222" stroke="#222222" stroke-width="0.25" textLength="14.89" lengthAdjust="spacingAndGlyphs">3.0</text>
<text x="463.43" y="154.90" font-family="Liberation Sans" font-size="9.6" fill="#222222" stroke="#222222" stroke-width="0.25" textLength="14.31" lengthAdjust="spacingAndGlyphs">0.0</text>
<text x="496.20" y="154.90" font-family="Liberation Sans" font-size="9.6" fill="#222222" stroke="#222222" stroke-width="0.25" textLength="14.77" lengthAdjust="spacingAndGlyphs">0.5</text>
<text x="529.87" y="154.90" font-family="Liberation Sans" font-size="9.6" fill="#222222" stroke="#222222" stroke-width="0.25" textLength="14.34" lengthAdjust="spacingAndGlyphs">1.0</text>
<text x="563.09" y="154.90" font-family="Liberation Sans" font-size="9.6" fill="#222222" stroke="#222222" stroke-width="0.25" textLength="14.87" lengthAdjust="spacingAndGlyphs">1.5</text>
<text x="595.62" y="154.90" font-family="Liberation Sans" font-size="9.6" fill="#222222" stroke="#222222" stroke-width="0.25" textLength="14.48" lengthAdjust="spacingAndGlyphs">2.0</text>
<text x="629.29" y="154.90" font-family="Liberation Sans" font-size="9.6" fill="#222222" stroke="#222222" stroke-width="0.25" textLength="14.56" lengthAdjust="spacingAndGlyphs">2.5</text>
<text x="661.85" y="154.90" font-family="Liberation Sans" font-size="9.6" fill="#222222" stroke="#222222" stroke-width="0.25" textLength="15.05" lengthAdjust="spacingAndGlyphs">3.0</text>
<text x="21.36" y="311.80" font-family="Liberation Sans" font-size="9.6" fill="#222222" stroke="#222222" stroke-width="0.25" textLength="14.04" lengthAdjust="spacingAndGlyphs">0.0</text>
<text x="71.53" y="311.80" font-family="Liberation Sans" font-size="9.6" fill="#222222" stroke="#222222" stroke-width="0.25" textLength="14.08" lengthAdjust="spacingAndGlyphs">0.5</text>
<text x="120.94" y="311.80" font-family="Liberation Sans" font-size="9.6" fill="#222222" stroke="#222222" stroke-width="0.25" textLength="14.57" lengthAdjust="spacingAndGlyphs">1.0</text>
<text x="171.05" y="311.80" font-family="Liberation Sans" font-size="9.6" fill="#222222" stroke="#222222" stroke-width="0.25" textLength="14.36" lengthAdjust="spacingAndGlyphs">1.5</text>
<text x="219.12" y="311.80" font-family="Liberation Sans" font-size="9.6" fill="#222222" stroke="#222222" stroke-width="0.25" textLength="14.38" lengthAdjust="spacingAndGlyphs">2.0</text>
<text x="242.37" y="311.80" font-family="Liberation Sans" font-size="9.6" fill="#222222" stroke="#222222" stroke-width="0.25" textLength="14.09" lengthAdjust="spacingAndGlyphs">0.0</text>
<text x="292.69" y="311.80" font-family="Liberation Sans" font-size="9.6" fill="#222222" stroke="#222222" stroke-width="0.25" textLength="13.84" lengthAdjust="spacingAndGlyphs">0.5</text>
<text x="342.07" y="311.80" font-family="Liberation Sans" font-size="9.6" fill="#222222" stroke="#222222" stroke-width="0.25" textLength="14.53" lengthAdjust="spacingAndGlyphs">1.0</text>
<text x="392.39" y="311.80" font-family="Liberation Sans" font-size="9.6" fill="#222222" stroke="#222222" stroke-width="0.25" textLength="14.27" lengthAdjust="spacingAndGlyphs">1.5</text>
<text x="440.62" y="311.80" font-family="Liberation Sans" font-size="9.6" fill="#222222" stroke="#222222" stroke-width="0.25" textLength="13.84" lengthAdjust="spacingAndGlyphs">2.0</text>
<text x="461.72" y="311.80" font-family="Liberation Sans" font-size="9.6" fill="#222222" stroke="#222222" stroke-width="0.25" textLength="14.05" lengthAdjust="spacingAndGlyphs">0.0</text>
<text x="512.22" y="311.80" font-family="Liberation Sans" font-size="9.6" fill="#222222" stroke="#222222" stroke-width="0.25" textLength="14.07" lengthAdjust="spacingAndGlyphs">0.5</text>
<text x="561.57" y="311.80" font-family="Liberation Sans" font-size="9.6" fill="#222222" stroke="#222222" stroke-width="0.25" textLength="14.49" lengthAdjust="spacingAndGlyphs">1.0</text>
<text x="612.04" y="311.80" font-family="Liberation Sans" font-size="9.6" fill="#222222" stroke="#222222" stroke-width="0.25" textLength="14.42" lengthAdjust="spacingAndGlyphs">1.5</text>
<text x="660.12" y="311.80" font-family="Liberation Sans" font-size="9.6" fill="#222222" stroke="#222222" stroke-width="0.25" textLength="14.38" lengthAdjust="spacingAndGlyphs">2.0</text>
<text x="14.73" y="118.13" font-family="Liberation Sans" font-size="9.6" fill="#222222" stroke="#222222" stroke-width="0.25" textLength="13.67" lengthAdjust="spacingAndGlyphs">0.2</text>
<text x="14.77" y="87.40" font-family="Liberation Sans" font-size="9.6" fill="#222222" stroke="#222222" stroke-width="0.25" textLength="13.63" lengthAdjust="spacingAndGlyphs">0.4</text>
<text x="14.89" y="56.68" font-family="Liberation Sans" font-size="9.6" fill="#222222" stroke="#222222" stroke-width="0.25" textLength="13.52" lengthAdjust="spacingAndGlyphs">0.6</text>
<text x="14.84" y="25.95" font-family="Liberation Sans" font-size="9.6" fill="#222222" stroke="#222222" stroke-width="0.25" textLength="13.62" lengthAdjust="spacingAndGlyphs">0.8</text>
<text x="14.76" y="278.83" font-family="Liberation Sans" font-size="9.6" fill="#222222" stroke="#222222" stroke-width="0.25" textLength="13.96" lengthAdjust="spacingAndGlyphs">0.5</text>
<text x="14.20" y="254.11" font-family="Liberation Sans" font-size="9.6" fill="#222222" stroke="#222222" stroke-width="0.25" textLength="14.14" lengthAdjust="spacingAndGlyphs">1.0</text>
<text x="14.22" y="229.39" font-family="Liberation Sans" font-size="9.6" fill="#222222" stroke="#222222" stroke-width="0.25" textLength="14.49" lengthAdjust="spacingAndGlyphs">1.5</text>
<text x="14.85" y="204.67" font-family="Liberation Sans" font-size="9.6" fill="#222222" stroke="#222222" stroke-width="0.25" textLength="13.48" lengthAdjust="spacingAndGlyphs">2.0</text>
<text x="14.81" y="179.95" font-family="Liberation Sans" font-size="9.6" fill="#222222" stroke="#222222" stroke-width="0.25" textLength="13.62" lengthAdjust="spacingAndGlyphs">2.5</text>
<text x="34.25" y="34.95" font-family="Liberation Sans" font-size="9.8" fill="#1a1a1a" stroke="#1a1a1a" stroke-width="0.25" textLength="12.80" lengthAdjust="spacingAndGlyphs">(a)</text>
<text x="254.19" y="35.35" font-family="Liberation Sans" font-size="9.8" fill="#1a1a1a" stroke="#1a1a1a" stroke-width="0.25" textLength="13.34" lengthAdjust="spacingAndGlyphs">(b)</text>
<text x="475.37" y="35.45" font-family="Liberation Sans" font-size="9.8" fill="#1a1a1a" stroke="#1a1a1a" stroke-width="0.25" textLength="12.50" lengthAdjust="spacingAndGlyphs">(c)</text>
<text x="34.77" y="293.35" font-family="Liberation Sans" font-size="9.8" fill="#1a1a1a" stroke="#1a1a1a" stroke-width="0.25" textLength="12.86" lengthAdjust="spacingAndGlyphs">(d)</text>
<text x="254.98" y="293.55" font-family="Liberation Sans" font-size="9.8" fill="#1a1a1a" stroke="#1a1a1a" stroke-width="0.25" textLength="12.31" lengthAdjust="spacingAndGlyphs">(e)</text>
<text x="474.15" y="293.35" font-family="Liberation Sans" font-size="9.8" fill="#1a1a1a" stroke="#1a1a1a" stroke-width="0.25" textLength="11.00" lengthAdjust="spacingAndGlyphs">(f)</text>
<text x="60.82" y="55.80" font-family="Liberation Sans" font-size="10.4" fill="#1a1a1a" stroke="#1a1a1a" stroke-width="0.25" textLength="44.09" lengthAdjust="spacingAndGlyphs">Polarised</text>
<text x="267.82" y="53.80" font-family="Liberation Sans" font-size="10.4" fill="#1a1a1a" stroke="#1a1a1a" stroke-width="0.25" textLength="43.97" lengthAdjust="spacingAndGlyphs">Polarised</text>
<text x="486.92" y="55.30" font-family="Liberation Sans" font-size="10.4" fill="#1a1a1a" stroke="#1a1a1a" stroke-width="0.25" textLength="44.27" lengthAdjust="spacingAndGlyphs">Polarised</text>
<text x="154.14" y="112.50" font-family="Liberation Sans" font-size="10.4" fill="#ede6f5" stroke="#ede6f5" stroke-width="0.25" textLength="64.65" lengthAdjust="spacingAndGlyphs">Conical-Helix</text>
<text x="375.15" y="109.90" font-family="Liberation Sans" font-size="10.4" fill="#ede6f5" stroke="#ede6f5" stroke-width="0.25" textLength="65.28" lengthAdjust="spacingAndGlyphs">Conical-Helix</text>
<text x="593.46" y="110.30" font-family="Liberation Sans" font-size="10.4" fill="#ede6f5" stroke="#ede6f5" stroke-width="0.25" textLength="64.69" lengthAdjust="spacingAndGlyphs">Conical-Helix</text>
<text x="93.85" y="200.90" font-family="Liberation Sans" font-size="10.4" fill="#ede6f5" stroke="#ede6f5" stroke-width="0.25" textLength="64.76" lengthAdjust="spacingAndGlyphs">Conical-Helix</text>
<text x="314.18" y="201.40" font-family="Liberation Sans" font-size="10.4" fill="#ede6f5" stroke="#ede6f5" stroke-width="0.25" textLength="65.06" lengthAdjust="spacingAndGlyphs">Conical-Helix</text>
<text x="534.18" y="201.40" font-family="Liberation Sans" font-size="10.4" fill="#ede6f5" stroke="#ede6f5" stroke-width="0.25" textLength="65.06" lengthAdjust="spacingAndGlyphs">Conical-Helix</text>
<text x="48.79" y="266.40" font-family="Liberation Sans" font-size="10.4" fill="#1a1a1a" stroke="#1a1a1a" stroke-width="0.25" textLength="39.97" lengthAdjust="spacingAndGlyphs">In-Plane</text>
<text x="266.79" y="266.30" font-family="Liberation Sans" font-size="10.4" fill="#1a1a1a" stroke="#1a1a1a" stroke-width="0.25" textLength="40.15" lengthAdjust="spacingAndGlyphs">In-Plane</text>
<text x="483.88" y="266.50" font-family="Liberation Sans" font-size="10.4" fill="#1a1a1a" stroke="#1a1a1a" stroke-width="0.25" textLength="39.81" lengthAdjust="spacingAndGlyphs">In-Plane</text>
<text x="153.52" y="281.90" font-family="Liberation Sans" font-size="10.4" fill="#1a1a1a" stroke="#1a1a1a" stroke-width="0.25" textLength="60.83" lengthAdjust="spacingAndGlyphs">Out-of-Plane</text>
<text x="385.52" y="281.70" font-family="Liberation Sans" font-size="10.4" fill="#1a1a1a" stroke="#1a1a1a" stroke-width="0.25" textLength="60.70" lengthAdjust="spacingAndGlyphs">Out-of-Plane</text>
<text x="600.08" y="281.70" font-family="Liberation Sans" font-size="10.4" fill="#1a1a1a" stroke="#1a1a1a" stroke-width="0.25" textLength="61.82" lengthAdjust="spacingAndGlyphs">Out-of-Plane</text>
<text x="122.67" y="35.80" font-family="Liberation Serif" font-size="11.4" fill="#1a1a1a" stroke="#1a1a1a" stroke-width="0.3" font-style="italic" textLength="7.18" lengthAdjust="spacingAndGlyphs">D</text>
<text x="129.41" y="37.70" font-family="Liberation Serif" font-size="7.2" fill="#1a1a1a" stroke="#1a1a1a" stroke-width="0.3" textLength="4.11" lengthAdjust="spacingAndGlyphs">2</text>
<text x="136.79" y="37.00" font-family="Liberation Serif" font-size="11.8" fill="#1a1a1a" stroke="#1a1a1a" stroke-width="0.3" textLength="8.88" lengthAdjust="spacingAndGlyphs">=</text>
<text x="148.87" y="35.90" font-family="Liberation Serif" font-size="12.2" fill="#1a1a1a" stroke="#1a1a1a" stroke-width="0.3" textLength="6.07" lengthAdjust="spacingAndGlyphs">0</text>
<text x="319.96" y="35.60" font-family="Liberation Serif" font-size="11.4" fill="#1a1a1a" stroke="#1a1a1a" stroke-width="0.3" font-style="italic" textLength="7.59" lengthAdjust="spacingAndGlyphs">D</text>
<text x="326.62" y="37.70" font-family="Liberation Serif" font-size="7.2" fill="#1a1a1a" stroke="#1a1a1a" stroke-width="0.3" textLength="4.71" lengthAdjust="spacingAndGlyphs">2</text>
<text x="334.85" y="36.80" font-family="Liberation Serif" font-size="11.8" fill="#1a1a1a" stroke="#1a1a1a" stroke-width="0.3" textLength="8.06" lengthAdjust="spacingAndGlyphs">=</text>
<text x="346.29" y="35.50" font-family="Liberation Serif" font-size="12.2" fill="#1a1a1a" stroke="#1a1a1a" stroke-width="0.3" textLength="13.43" lengthAdjust="spacingAndGlyphs">0.5</text>
<text x="363.30" y="35.20" font-family="Liberation Serif" font-size="11.8" fill="#1a1a1a" stroke="#1a1a1a" stroke-width="0.3" textLength="11.86" lengthAdjust="spacingAndGlyphs">mJ</text>
<text x="375.25" y="35.80" font-family="Liberation Serif" font-size="13.4" fill="#1a1a1a" stroke="#1a1a1a" stroke-width="0.3" textLength="5.50" lengthAdjust="spacingAndGlyphs">/</text>
<text x="380.57" y="35.20" font-family="Liberation Serif" font-size="11.8" fill="#1a1a1a" stroke="#1a1a1a" stroke-width="0.3" textLength="9.48" lengthAdjust="spacingAndGlyphs">m</text>
<text x="390.09" y="30.90" font-family="Liberation Serif" font-size="6.8" fill="#1a1a1a" stroke="#1a1a1a" stroke-width="0.3" textLength="4.71" lengthAdjust="spacingAndGlyphs">2</text>
<text x="539.46" y="35.80" font-family="Liberation Serif" font-size="11.4" fill="#1a1a1a" stroke="#1a1a1a" stroke-width="0.3" font-style="italic" textLength="7.64" lengthAdjust="spacingAndGlyphs">D</text>
<text x="546.41" y="37.70" font-family="Liberation Serif" font-size="7.2" fill="#1a1a1a" stroke="#1a1a1a" stroke-width="0.3" textLength="4.11" lengthAdjust="spacingAndGlyphs">2</text>
<text x="554.35" y="37.00" font-family="Liberation Serif" font-size="11.8" fill="#1a1a1a" stroke="#1a1a1a" stroke-width="0.3" textLength="8.51" lengthAdjust="spacingAndGlyphs">=</text>
<text x="564.80" y="35.90" font-family="Liberation Serif" font-size="12.2" fill="#1a1a1a" stroke="#1a1a1a" stroke-width="0.3" textLength="7.34" lengthAdjust="spacingAndGlyphs">1</text>
<text x="574.42" y="35.60" font-family="Liberation Serif" font-size="11.8" fill="#1a1a1a" stroke="#1a1a1a" stroke-width="0.3" textLength="12.22" lengthAdjust="spacingAndGlyphs">mJ</text>
<text x="586.53" y="36.20" font-family="Liberation Serif" font-size="13.4" fill="#1a1a1a" stroke="#1a1a1a" stroke-width="0.3" textLength="5.42" lengthAdjust="spacingAndGlyphs">/</text>
<text x="592.08" y="35.60" font-family="Liberation Serif" font-size="11.8" fill="#1a1a1a" stroke="#1a1a1a" stroke-width="0.3" textLength="9.07" lengthAdjust="spacingAndGlyphs">m</text>
<text x="601.17" y="31.40" font-family="Liberation Serif" font-size="6.8" fill="#1a1a1a" stroke="#1a1a1a" stroke-width="0.3" textLength="5.01" lengthAdjust="spacingAndGlyphs">2</text>
<text x="102.45" y="164.60" font-family="Liberation Serif" font-size="11.0" fill="#1a1a1a" stroke="#1a1a1a" stroke-width="0.3" font-style="italic" textLength="6.97" lengthAdjust="spacingAndGlyphs">D</text>
<text x="109.08" y="167.10" font-family="Liberation Serif" font-size="7.2" fill="#1a1a1a" stroke="#1a1a1a" stroke-width="0.3">1</text>
<text x="117.70" y="164.80" font-family="Liberation Serif" font-size="11.0" fill="#1a1a1a" stroke="#1a1a1a" stroke-width="0.3" textLength="3.10" lengthAdjust="spacingAndGlyphs">[</text>
<text x="120.81" y="164.60" font-family="Liberation Serif" font-size="11.0" fill="#1a1a1a" stroke="#1a1a1a" stroke-width="0.3" textLength="11.66" lengthAdjust="spacingAndGlyphs">mJ</text>
<text x="132.46" y="165.20" font-family="Liberation Serif" font-size="13.2" fill="#1a1a1a" stroke="#1a1a1a" stroke-width="0.3" textLength="5.70" lengthAdjust="spacingAndGlyphs">/</text>
<text x="138.45" y="164.60" font-family="Liberation Serif" font-size="11.0" fill="#1a1a1a" stroke="#1a1a1a" stroke-width="0.3" textLength="9.10" lengthAdjust="spacingAndGlyphs">m</text>
<text x="147.64" y="160.50" font-family="Liberation Serif" font-size="6.6" fill="#1a1a1a" stroke="#1a1a1a" stroke-width="0.3" textLength="5.02" lengthAdjust="spacingAndGlyphs">2</text>
<text x="151.80" y="164.80" font-family="Liberation Serif" font-size="11.0" fill="#1a1a1a" stroke="#1a1a1a" stroke-width="0.3" textLength="4.08" lengthAdjust="spacingAndGlyphs">]</text>
<text x="324.84" y="164.60" font-family="Liberation Serif" font-size="11.0" fill="#1a1a1a" stroke="#1a1a1a" stroke-width="0.3" font-style="italic" textLength="7.06" lengthAdjust="spacingAndGlyphs">D</text>
<text x="331.62" y="167.10" font-family="Liberation Serif" font-size="7.2" fill="#1a1a1a" stroke="#1a1a1a" stroke-width="0.3">1</text>
<text x="339.81" y="164.80" font-family="Liberation Serif" font-size="11.0" fill="#1a1a1a" stroke="#1a1a1a" stroke-width="0.3" textLength="3.28" lengthAdjust="spacingAndGlyphs">[</text>
<text x="343.37" y="164.60" font-family="Liberation Serif" font-size="11.0" fill="#1a1a1a" stroke="#1a1a1a" stroke-width="0.3" textLength="11.40" lengthAdjust="spacingAndGlyphs">mJ</text>
<text x="355.24" y="165.20" font-family="Liberation Serif" font-size="13.2" fill="#1a1a1a" stroke="#1a1a1a" stroke-width="0.3" textLength="5.67" lengthAdjust="spacingAndGlyphs">/</text>
<text x="361.14" y="164.60" font-family="Liberation Serif" font-size="11.0" fill="#1a1a1a" stroke="#1a1a1a" stroke-width="0.3" textLength="8.83" lengthAdjust="spacingAndGlyphs">m</text>
<text x="370.19" y="160.50" font-family="Liberation Serif" font-size="6.6" fill="#1a1a1a" stroke="#1a1a1a" stroke-width="0.3" textLength="5.05" lengthAdjust="spacingAndGlyphs">2</text>
<text x="374.89" y="164.80" font-family="Liberation Serif" font-size="11.0" fill="#1a1a1a" stroke="#1a1a1a" stroke-width="0.3" textLength="3.30" lengthAdjust="spacingAndGlyphs">]</text>
<text x="546.16" y="164.60" font-family="Liberation Serif" font-size="11.0" fill="#1a1a1a" stroke="#1a1a1a" stroke-width="0.3" font-style="italic" textLength="7.01" lengthAdjust="spacingAndGlyphs">D</text>
<text x="552.69" y="167.10" font-family="Liberation Serif" font-size="7.2" fill="#1a1a1a" stroke="#1a1a1a" stroke-width="0.3">1</text>
<text x="560.99" y="164.80" font-family="Liberation Serif" font-size="11.0" fill="#1a1a1a" stroke="#1a1a1a" stroke-width="0.3" textLength="3.51" lengthAdjust="spacingAndGlyphs">[</text>
<text x="564.52" y="164.60" font-family="Liberation Serif" font-size="11.0" fill="#1a1a1a" stroke="#1a1a1a" stroke-width="0.3" textLength="11.55" lengthAdjust="spacingAndGlyphs">mJ</text>
<text x="576.41" y="165.20" font-family="Liberation Serif" font-size="13.2" fill="#1a1a1a" stroke="#1a1a1a" stroke-width="0.3" textLength="5.66" lengthAdjust="spacingAndGlyphs">/</text>
<text x="582.29" y="164.60" font-family="Liberation Serif" font-size="11.0" fill="#1a1a1a" stroke="#1a1a1a" stroke-width="0.3" textLength="8.91" lengthAdjust="spacingAndGlyphs">m</text>
<text x="591.12" y="160.50" font-family="Liberation Serif" font-size="6.6" fill="#1a1a1a" stroke="#1a1a1a" stroke-width="0.3" textLength="5.15" lengthAdjust="spacingAndGlyphs">2</text>
<text x="596.08" y="164.80" font-family="Liberation Serif" font-size="11.0" fill="#1a1a1a" stroke="#1a1a1a" stroke-width="0.3" textLength="3.28" lengthAdjust="spacingAndGlyphs">]</text>
<text x="103.93" y="322.60" font-family="Liberation Serif" font-size="11.6" fill="#1a1a1a" stroke="#1a1a1a" stroke-width="0.3" textLength="5.70" lengthAdjust="spacingAndGlyphs">2</text>
<text x="109.37" y="322.60" font-family="Liberation Serif" font-size="11.6" fill="#1a1a1a" stroke="#1a1a1a" stroke-width="0.3" font-style="italic" textLength="7.73" lengthAdjust="spacingAndGlyphs">K</text>
<text x="118.16" y="324.10" font-family="Liberation Serif" font-size="13.0" fill="#1a1a1a" stroke="#1a1a1a" stroke-width="0.3" textLength="4.58" lengthAdjust="spacingAndGlyphs">/</text>
<text x="123.13" y="322.60" font-family="Liberation Serif" font-size="11.6" fill="#1a1a1a" stroke="#1a1a1a" stroke-width="0.3" font-style="italic" textLength="6.39" lengthAdjust="spacingAndGlyphs">μ</text>
<text x="129.32" y="325.60" font-family="Liberation Serif" font-size="7.6" fill="#1a1a1a" stroke="#1a1a1a" stroke-width="0.3" textLength="4.19" lengthAdjust="spacingAndGlyphs">0</text>
<text x="134.62" y="322.60" font-family="Liberation Serif" font-size="11.6" fill="#1a1a1a" stroke="#1a1a1a" stroke-width="0.3" font-style="italic" textLength="8.55" lengthAdjust="spacingAndGlyphs">M</text>
<text x="143.39" y="325.20" font-family="Liberation Serif" font-size="8.2" fill="#1a1a1a" stroke="#1a1a1a" stroke-width="0.3" font-style="italic" textLength="4.01" lengthAdjust="spacingAndGlyphs">s</text>
<text x="144.53" y="318.30" font-family="Liberation Serif" font-size="7.6" fill="#1a1a1a" stroke="#1a1a1a" stroke-width="0.3" textLength="4.16" lengthAdjust="spacingAndGlyphs">2</text>
<text x="224.46" y="322.60" font-family="Liberation Serif" font-size="11.6" fill="#1a1a1a" stroke="#1a1a1a" stroke-width="0.3" textLength="5.45" lengthAdjust="spacingAndGlyphs">2</text>
<text x="229.94" y="322.60" font-family="Liberation Serif" font-size="11.6" fill="#1a1a1a" stroke="#1a1a1a" stroke-width="0.3" font-style="italic" textLength="7.93" lengthAdjust="spacingAndGlyphs">K</text>
<text x="238.30" y="324.10" font-family="Liberation Serif" font-size="13.0" fill="#1a1a1a" stroke="#1a1a1a" stroke-width="0.3" textLength="4.66" lengthAdjust="spacingAndGlyphs">/</text>
<text x="243.34" y="322.60" font-family="Liberation Serif" font-size="11.6" fill="#1a1a1a" stroke="#1a1a1a" stroke-width="0.3" font-style="italic" textLength="6.38" lengthAdjust="spacingAndGlyphs">μ</text>
<text x="249.88" y="325.60" font-family="Liberation Serif" font-size="7.6" fill="#1a1a1a" stroke="#1a1a1a" stroke-width="0.3" textLength="4.16" lengthAdjust="spacingAndGlyphs">0</text>
<text x="255.07" y="322.60" font-family="Liberation Serif" font-size="11.6" fill="#1a1a1a" stroke="#1a1a1a" stroke-width="0.3" font-style="italic" textLength="8.57" lengthAdjust="spacingAndGlyphs">M</text>
<text x="263.84" y="325.20" font-family="Liberation Serif" font-size="8.2" fill="#1a1a1a" stroke="#1a1a1a" stroke-width="0.3" font-style="italic" textLength="4.03" lengthAdjust="spacingAndGlyphs">s</text>
<text x="265.05" y="318.30" font-family="Liberation Serif" font-size="7.6" fill="#1a1a1a" stroke="#1a1a1a" stroke-width="0.3" textLength="4.25" lengthAdjust="spacingAndGlyphs">2</text>
<text x="550.36" y="322.60" font-family="Liberation Serif" font-size="11.6" fill="#1a1a1a" stroke="#1a1a1a" stroke-width="0.3" textLength="5.58" lengthAdjust="spacingAndGlyphs">2</text>
<text x="556.00" y="322.60" font-family="Liberation Serif" font-size="11.6" fill="#1a1a1a" stroke="#1a1a1a" stroke-width="0.3" font-style="italic" textLength="7.96" lengthAdjust="spacingAndGlyphs">K</text>
<text x="564.47" y="324.10" font-family="Liberation Serif" font-size="13.0" fill="#1a1a1a" stroke="#1a1a1a" stroke-width="0.3" textLength="4.65" lengthAdjust="spacingAndGlyphs">/</text>
<text x="569.53" y="322.60" font-family="Liberation Serif" font-size="11.6" fill="#1a1a1a" stroke="#1a1a1a" stroke-width="0.3" font-style="italic" textLength="6.42" lengthAdjust="spacingAndGlyphs">μ</text>
<text x="575.97" y="325.60" font-family="Liberation Serif" font-size="7.6" fill="#1a1a1a" stroke="#1a1a1a" stroke-width="0.3" textLength="4.18" lengthAdjust="spacingAndGlyphs">0</text>
<text x="581.16" y="322.60" font-family="Liberation Serif" font-size="11.6" fill="#1a1a1a" stroke="#1a1a1a" stroke-width="0.3" font-style="italic" textLength="8.47" lengthAdjust="spacingAndGlyphs">M</text>
<text x="590.14" y="325.20" font-family="Liberation Serif" font-size="8.2" fill="#1a1a1a" stroke="#1a1a1a" stroke-width="0.3" font-style="italic" textLength="3.98" lengthAdjust="spacingAndGlyphs">s</text>
<text x="591.17" y="318.30" font-family="Liberation Serif" font-size="7.6" fill="#1a1a1a" stroke="#1a1a1a" stroke-width="0.3" textLength="4.23" lengthAdjust="spacingAndGlyphs">2</text>
<text x="64.50" y="125.60" font-family="Liberation Serif" font-size="11.8" fill="#ff1f1f" stroke="#ff1f1f" stroke-width="0.1" font-style="italic" textLength="7.06" lengthAdjust="spacingAndGlyphs">D</text>
<text x="70.96" y="127.50" font-family="Liberation Serif" font-size="7.6" fill="#ff1f1f" stroke="#ff1f1f" stroke-width="0.1" font-style="italic" textLength="8.53" lengthAdjust="spacingAndGlyphs">1c</text>
<text x="271.52" y="125.80" font-family="Liberation Serif" font-size="11.8" fill="#ff1f1f" stroke="#ff1f1f" stroke-width="0.1" font-style="italic" textLength="6.96" lengthAdjust="spacingAndGlyphs">D</text>
<text x="278.02" y="128.30" font-family="Liberation Serif" font-size="7.6" fill="#ff1f1f" stroke="#ff1f1f" stroke-width="0.1" font-style="italic" textLength="9.26" lengthAdjust="spacingAndGlyphs">1c</text>
<text x="143.49" y="264.80" font-family="Liberation Serif" font-size="11.8" fill="#ff1f1f" stroke="#ff1f1f" stroke-width="0.1" font-style="italic" textLength="7.18" lengthAdjust="spacingAndGlyphs">D</text>
<text x="149.74" y="267.30" font-family="Liberation Serif" font-size="7.6" fill="#ff1f1f" stroke="#ff1f1f" stroke-width="0.1" font-style="italic" textLength="9.34" lengthAdjust="spacingAndGlyphs">1c</text>
<text x="364.32" y="273.60" font-family="Liberation Serif" font-size="11.8" fill="#ff1f1f" stroke="#ff1f1f" stroke-width="0.1" font-style="italic" textLength="7.11" lengthAdjust="spacingAndGlyphs">D</text>
<text x="370.87" y="275.80" font-family="Liberation Serif" font-size="7.6" fill="#ff1f1f" stroke="#ff1f1f" stroke-width="0.1" font-style="italic" textLength="8.87" lengthAdjust="spacingAndGlyphs">1c</text>
<text x="567.51" y="9.70" font-family="Liberation Serif" font-size="11.2" fill="#1a1a1a" stroke="#1a1a1a" stroke-width="0.05">0</text>
<text x="608.87" y="7.90" font-family="Liberation Serif" font-size="10.6" fill="#1a1a1a" stroke="#1a1a1a" stroke-width="0.05" font-style="italic" textLength="6.42" lengthAdjust="spacingAndGlyphs">π</text>
<text x="616.02" y="8.60" font-family="Liberation Serif" font-size="12.4" fill="#1a1a1a" stroke="#1a1a1a" stroke-width="0.05" textLength="5.05" lengthAdjust="spacingAndGlyphs">/</text>
<text x="621.44" y="7.80" font-family="Liberation Serif" font-size="10.6" fill="#1a1a1a" stroke="#1a1a1a" stroke-width="0.05" textLength="6.05" lengthAdjust="spacingAndGlyphs">4</text>
<text x="657.77" y="7.90" font-family="Liberation Serif" font-size="10.6" fill="#1a1a1a" stroke="#1a1a1a" stroke-width="0.05" font-style="italic">π</text>
<text x="664.90" y="8.60" font-family="Liberation Serif" font-size="12.4" fill="#1a1a1a" stroke="#1a1a1a" stroke-width="0.05" textLength="3.22" lengthAdjust="spacingAndGlyphs">/</text>
<text x="669.17" y="7.90" font-family="Liberation Serif" font-size="10.6" fill="#1a1a1a" stroke="#1a1a1a" stroke-width="0.05" textLength="6.82" lengthAdjust="spacingAndGlyphs">2</text>
<text x="673.38" y="14.20" font-family="Liberation Serif" font-size="11" fill="#1a1a1a" stroke="#1a1a1a" stroke-width="0.05" font-style="italic">φ</text>
<text x="680.14" y="16.50" font-family="Liberation Serif" font-size="7.8" fill="#1a1a1a" stroke="#1a1a1a" stroke-width="0.05" font-style="italic">q</text>
<text transform="translate(10.20,106.10) rotate(-90)" font-family="Liberation Serif" font-size="11.4" fill="#1a1a1a" stroke="#1a1a1a" stroke-width="0.3" font-style="italic" textLength="6.92" lengthAdjust="spacingAndGlyphs">μ</text>
<text transform="translate(12.60,99.35) rotate(-90)" font-family="Liberation Serif" font-size="7.0" fill="#1a1a1a" stroke="#1a1a1a" stroke-width="0.3" textLength="4.41" lengthAdjust="spacingAndGlyphs">0</text>
<text transform="translate(10.20,93.56) rotate(-90)" font-family="Liberation Serif" font-size="11.4" fill="#1a1a1a" stroke="#1a1a1a" stroke-width="0.3" font-style="italic" textLength="8.83" lengthAdjust="spacingAndGlyphs">H</text>
<text transform="translate(10.20,80.31) rotate(-90)" font-family="Liberation Serif" font-size="11.4" fill="#1a1a1a" stroke="#1a1a1a" stroke-width="0.3" textLength="24.58" lengthAdjust="spacingAndGlyphs">[mT]</text>
<text transform="translate(10.20,266.47) rotate(-90)" font-family="Liberation Serif" font-size="11.4" fill="#1a1a1a" stroke="#1a1a1a" stroke-width="0.3" font-style="italic">D</text>
<text transform="translate(12.00,259.14) rotate(-90)" font-family="Liberation Serif" font-size="7.2" fill="#1a1a1a" stroke="#1a1a1a" stroke-width="0.3">1</text>
<text transform="translate(10.20,251.64) rotate(-90)" font-family="Liberation Serif" font-size="11.4" fill="#1a1a1a" stroke="#1a1a1a" stroke-width="0.3" textLength="30.53" lengthAdjust="spacingAndGlyphs">[mJ/m</text>
<text transform="translate(6.00,219.88) rotate(-90)" font-family="Liberation Serif" font-size="7.2" fill="#1a1a1a" stroke="#1a1a1a" stroke-width="0.3">2</text>
<text transform="translate(10.20,216.55) rotate(-90)" font-family="Liberation Serif" font-size="11.4" fill="#1a1a1a" stroke="#1a1a1a" stroke-width="0.3">]</text>
<rect x="570" y="10.6" width="98" height="6.1" fill="url(#gcb)"/>
</svg>
</body></html>
